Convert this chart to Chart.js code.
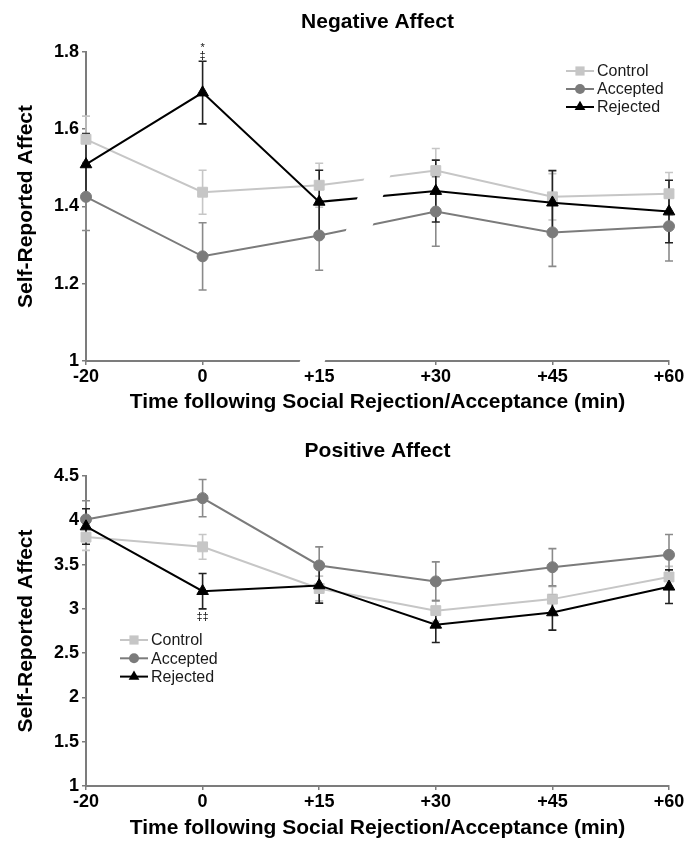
<!DOCTYPE html>
<html>
<head>
<meta charset="utf-8">
<script src="https://cdn.jsdelivr.net/npm/chart.js@4.4.1/dist/chart.umd.min.js"></script>
<style>
  html, body { margin: 0; padding: 0; background: #fff; }
  #wrap { position: relative; width: 697px; height: 841px; }
  canvas { position: absolute; left: 0; }
</style>
</head>
<body>
<div id="wrap">
  <canvas id="negChart" width="697" height="415" style="top:0"></canvas>
  <canvas id="posChart" width="697" height="426" style="top:415px"></canvas>
</div>
<script>
/* =====================================================
   Data
===================================================== */
const TIMES = ["-20", "0", "+15", "+30", "+45", "+60"]
const GROUPS = ["Control", "Accepted", "Rejected"]

const NEG_CONTROL      = [1.574, 1.437, 1.455, 1.493, 1.425, 1.433]
const NEG_CONTROL_ERR  = [0.060, 0.057, 0.057, 0.057, 0.060, 0.055]
const NEG_ACCEPTED     = [1.425, 1.271, 1.325, 1.387, 1.333, 1.349]
const NEG_ACCEPTED_ERR = [0.087, 0.087, 0.090, 0.090, 0.088, 0.090]
const NEG_REJECTED     = [1.509, 1.695, 1.412, 1.440, 1.410, 1.387]
const NEG_REJECTED_ERR = [0.080, 0.081, 0.082, 0.080, 0.083, 0.081]
const NEG_Y_TICKS      = [1, 1.2, 1.4, 1.6, 1.8]

const POS_CONTROL      = [3.81, 3.70, 3.23, 2.98, 3.11, 3.36]
const POS_CONTROL_ERR  = [0.15, 0.14, 0.14, 0.12, 0.14, 0.12]
const POS_ACCEPTED     = [4.01, 4.25, 3.49, 3.31, 3.47, 3.61]
const POS_ACCEPTED_ERR = [0.21, 0.21, 0.21, 0.22, 0.21, 0.23]
const POS_REJECTED     = [3.93, 3.20, 3.265, 2.82, 2.96, 3.25]
const POS_REJECTED_ERR = [0.20, 0.20, 0.20, 0.20, 0.20, 0.19]
const POS_Y_TICKS      = [1, 1.5, 2, 2.5, 3, 3.5, 4, 4.5]

const X_TITLE = "Time following Social Rejection/Acceptance (min)"
const Y_TITLE = "Self-Reported Affect"

/* =====================================================
   Styles
===================================================== */
const FONT = "'Liberation Sans', Arial, Helvetica, sans-serif"
const AXIS_COLOR = "#7c7c7c"
const GROUP_STYLE = [
  { color: "#c6c6c6", errColor: "#c6c6c6", pointStyle: "rect",     radius: 7,   order: 2 },
  { color: "#7b7b7b", errColor: "#8a8a8a", pointStyle: "circle",   radius: 5.5, order: 1 },
  { color: "#000000", errColor: "#222222", pointStyle: "triangle", radius: 6.7, order: 0 },
]

/* =====================================================
   Plugins
===================================================== */
const errorBarPlugin = {
  id: "errorBars",
  beforeDatasetsDraw(chart) {
    const { ctx, scales: { x, y } } = chart
    chart.data.datasets.forEach(ds => {
      ctx.save()
      ctx.strokeStyle = ds.errColor
      ctx.lineWidth = 1.6
      ds.data.forEach((v, j) => {
        const px = x.getPixelForValue(j)
        const top = y.getPixelForValue(v + ds.errors[j])
        const bot = y.getPixelForValue(v - ds.errors[j])
        ctx.beginPath()
        ctx.moveTo(px, top); ctx.lineTo(px, bot)
        ctx.moveTo(px - 4, top); ctx.lineTo(px + 4, top)
        ctx.moveTo(px - 4, bot); ctx.lineTo(px + 4, bot)
        ctx.stroke()
      })
      ctx.restore()
    })
  }
}

const axisBreakPlugin = {
  id: "axisBreak",
  afterDatasetsDraw(chart, args, opts) {
    if (opts.after == null) return
    const { ctx, chartArea, scales: { x, y } } = chart
    const yb = chartArea.bottom + 5
    const yt = y.getPixelForValue(opts.upTo)
    const x0 = x.getPixelForValue(opts.after) + opts.offset
    const shift = (yb - yt) * opts.slope
    ctx.save()
    ctx.fillStyle = "#fff"
    ctx.beginPath()
    ctx.moveTo(x0, yb)
    ctx.lineTo(x0 + opts.width, yb)
    ctx.lineTo(x0 + opts.width + shift, yt)
    ctx.lineTo(x0 + shift, yt)
    ctx.closePath()
    ctx.fill()
    ctx.restore()
  }
}

const marksPlugin = {
  id: "marks",
  afterDatasetsDraw(chart, args, opts) {
    if (!opts.items) return
    const { ctx, scales: { x, y } } = chart
    ctx.save()
    ctx.fillStyle = "#111"
    ctx.font = "11px " + FONT
    ctx.textAlign = "center"
    ctx.textBaseline = "middle"
    opts.items.forEach(m => {
      const ds = chart.data.datasets[m.dataset]
      const v = ds.data[m.index] + (m.side === "top" ? ds.errors[m.index] : -ds.errors[m.index])
      ctx.fillText(m.text, x.getPixelForValue(m.index), y.getPixelForValue(v) + m.dy)
    })
    ctx.restore()
  }
}

const insideLegendPlugin = {
  id: "insideLegend",
  afterDatasetsDraw(chart, args, opts) {
    const { ctx } = chart
    ctx.save()
    ctx.font = "16px " + FONT
    ctx.textBaseline = "middle"
    chart.data.datasets.forEach((ds, i) => {
      const y = opts.y + i * opts.rowHeight
      ctx.strokeStyle = ds.borderColor
      ctx.lineWidth = 2
      ctx.beginPath()
      ctx.moveTo(opts.x, y)
      ctx.lineTo(opts.x + 28, y)
      ctx.stroke()
      ctx.fillStyle = ds.pointBackgroundColor
      Chart.helpers.drawPoint(ctx, {
        pointStyle: ds.pointStyle, radius: ds.pointRadius - 0.5, rotation: 0, borderWidth: 0
      }, opts.x + 14, y)
      ctx.fillStyle = "#1a1a1a"
      ctx.fillText(ds.label, opts.x + 31, y + 1)
    })
    ctx.restore()
  }
}

/* =====================================================
   Chart builder
===================================================== */
function buildDatasets(series, errors) {
  return GROUPS.map((g, i) => ({
    label: g,
    data: series[i],
    errors: errors[i],
    errColor: GROUP_STYLE[i].errColor,
    borderColor: GROUP_STYLE[i].color,
    backgroundColor: GROUP_STYLE[i].color,
    pointBackgroundColor: GROUP_STYLE[i].color,
    pointBorderColor: GROUP_STYLE[i].color,
    pointBorderWidth: 1,
    pointStyle: GROUP_STYLE[i].pointStyle,
    pointRadius: GROUP_STYLE[i].radius,
    borderWidth: 2,
    tension: 0,
    order: GROUP_STYLE[i].order,
  }))
}

function renderAffectChart(canvasId, cfg) {
  return new Chart(document.getElementById(canvasId), {
    type: "line",
    data: {
      labels: TIMES,
      datasets: buildDatasets(cfg.series, cfg.errors)
    },
    plugins: [errorBarPlugin, axisBreakPlugin, marksPlugin, insideLegendPlugin],
    options: {
      responsive: false,
      animation: false,
      devicePixelRatio: 1,
      layout: { padding: { left: 0, right: 28, top: 0, bottom: 0 } },
      plugins: {
        legend: { display: false },
        tooltip: { enabled: false },
        title: {
          display: true,
          text: cfg.title,
          fullSize: false,
          color: "#000",
          font: { family: FONT, size: 21, weight: "bold" },
          padding: cfg.titlePadding
        },
        axisBreak: cfg.axisBreak || {},
        marks: { items: cfg.marks },
        insideLegend: cfg.legend
      },
      scales: {
        x: {
          offset: false,
          grid: { drawOnChartArea: false, color: AXIS_COLOR, lineWidth: 1.5, tickLength: 4 },
          border: { color: AXIS_COLOR, width: 2 },
          ticks: {
            color: "#000", padding: 1, autoSkip: false, maxRotation: 0,
            font: { family: FONT, size: 18, weight: "bold" }
          },
          title: {
            display: true, text: X_TITLE, color: "#000",
            font: { family: FONT, size: 21, weight: "bold" },
            padding: { top: 0, bottom: 0 }
          },
          afterFit: s => { s.height = cfg.xHeight }
        },
        y: {
          min: cfg.yTicks[0],
          max: cfg.yTicks[cfg.yTicks.length - 1],
          afterBuildTicks: s => { s.ticks = cfg.yTicks.map(v => ({ value: v })) },
          grid: { drawOnChartArea: false, color: AXIS_COLOR, lineWidth: 1.5, tickLength: 4 },
          border: { color: AXIS_COLOR, width: 2 },
          ticks: {
            color: "#000", padding: 3,
            font: { family: FONT, size: 18, weight: "bold" },
            callback: v => String(v)
          },
          title: {
            display: true, text: Y_TITLE, color: "#000",
            font: { family: FONT, size: 21, weight: "bold" },
            padding: { top: 14, bottom: 0 }
          },
          afterFit: s => { s.width = 86 }
        }
      }
    }
  })
}

/* =====================================================
   Negative affect
===================================================== */
renderAffectChart("negChart", {
  title: "Negative Affect",
  titlePadding: { top: 9.5, bottom: 17.3 },
  xHeight: 54,
  yTicks: NEG_Y_TICKS,
  series: [NEG_CONTROL, NEG_ACCEPTED, NEG_REJECTED],
  errors: [NEG_CONTROL_ERR, NEG_ACCEPTED_ERR, NEG_REJECTED_ERR],
  axisBreak: { after: 2, offset: -21, width: 25, slope: 0.352, upTo: 1.52 },
  marks: [
    { dataset: 2, index: 1, side: "top", dy: -13, text: "*" },
    { dataset: 2, index: 1, side: "top", dy: -5, text: "\u2021" },
  ],
  legend: { x: 566, y: 71, rowHeight: 18 }
})

/* =====================================================
   Positive affect
===================================================== */
renderAffectChart("posChart", {
  title: "Positive Affect",
  titlePadding: { top: 23.4, bottom: 12.4 },
  xHeight: 55,
  yTicks: POS_Y_TICKS,
  series: [POS_CONTROL, POS_ACCEPTED, POS_REJECTED],
  errors: [POS_CONTROL_ERR, POS_ACCEPTED_ERR, POS_REJECTED_ERR],
  marks: [
    { dataset: 2, index: 1, side: "bottom", dy: 8, text: "\u2021\u2021" },
  ],
  legend: { x: 120, y: 225, rowHeight: 18.3 }
})
</script>
</body>
</html>
